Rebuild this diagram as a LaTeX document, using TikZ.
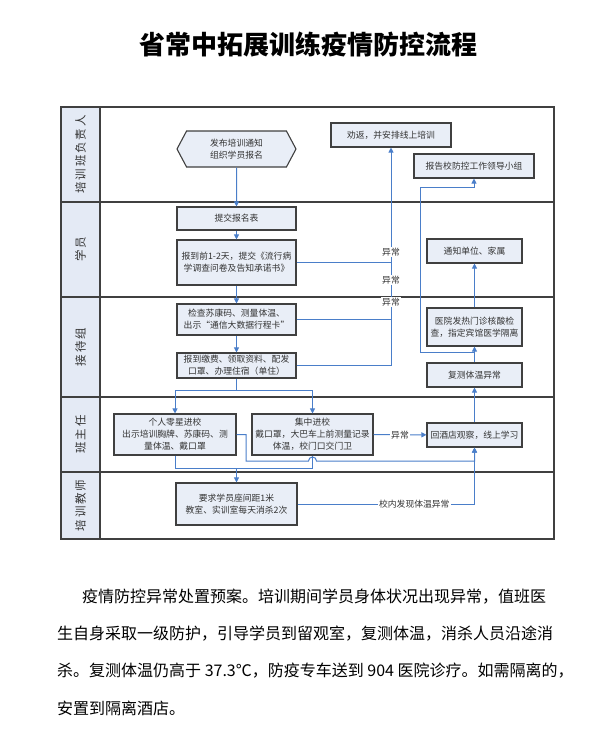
\documentclass[tikz,border=0pt]{standalone}
\usepackage{fontspec}
\usepackage{tikz}
\usetikzlibrary{arrows.meta,shapes.symbols}

\newfontfamily\cjk{Noto Sans CJK SC}

\definecolor{flowblue}{HTML}{4A7EC9}
\definecolor{boxfill}{HTML}{E9EEF7}
\definecolor{lanefill}{HTML}{E4EAF5}
\definecolor{edgegray}{HTML}{404040}
\definecolor{textgray}{HTML}{333333}

\tikzset{
  stepbox/.style={draw=edgegray, line width=1.1pt, fill=boxfill, align=center, text=textgray,
    font=\cjk\fontsize{8.8}{12}\selectfont, inner sep=1pt},
  link/.style={draw=flowblue, line width=1pt},
  flow/.style={link, -{Triangle[length=5pt,width=5pt]}},
  tag/.style={fill=white, inner sep=1pt, text=textgray, font=\cjk\fontsize{8.8}{10}\selectfont},
  lanetext/.style={rotate=90, text=textgray, font=\cjk\fontsize{11.5}{12}\selectfont},
  bodyline/.style={anchor=west, inner sep=0pt, text=black, font=\cjk\fontsize{16}{16}\selectfont},
}

\begin{document}
\begin{tikzpicture}[x=1pt, y=-1pt]
  \useasboundingbox (0,0) rectangle (614,739);

  \node[font=\cjk\bfseries\fontsize{26}{27}\selectfont] (title) at (308,45) {省常中拓展训练疫情防控流程};

  % swimlanes
  \fill[lanefill] (61,107) rectangle (100,539);
  \draw[edgegray, line width=1.2pt] (61,107) rectangle (554,539);
  \draw[edgegray, line width=1.2pt] (100,107) -- (100,539);
  \foreach \y in {202,297,397,472}
    \draw[edgegray, line width=1.2pt] (61,\y) -- (554,\y);

  \node[lanetext] (lane1) at (80.5,154.5) {培\,训\,班\,负\,责\,人};
  \node[lanetext] (lane2) at (80.5,249.5) {学\,员};
  \node[lanetext] (lane3) at (80.5,347) {接\,待\,组};
  \node[lanetext] (lane4) at (80.5,434.5) {班\,主\,任};
  \node[lanetext] (lane5) at (80.5,505.5) {培\,训\,教\,师};

  % left column
  \node[stepbox, shape=signal, signal to=east and west, signal pointer angle=124,
    minimum width=119pt, minimum height=36pt] (notice) at (236.5,149) {发布培训通知\\组织学员报名};
  \node[stepbox, minimum width=119pt, minimum height=23pt] (apply) at (236.5,218.5) {提交报名表};
  \node[stepbox, minimum width=119pt, minimum height=45pt] (report) at (236.5,262.5) {报到前1-2天，提交《流行病\\学调查问卷及告知承诺书》};
  \node[stepbox, minimum width=119pt, minimum height=31pt] (check) at (236.5,319.5) {检查苏康码、测量体温、\\出示“通信大数据行程卡”};
  \node[stepbox, minimum width=119pt, minimum height=25pt] (register) at (236.5,365.5) {报到缴费、领取资料、配发\\口罩、办理住宿（单住）};
  \node[stepbox, minimum width=122pt, minimum height=41pt] (single) at (175,434.5) {个人零星进校\\出示培训胸牌、苏康码、测\\量体温、戴口罩};
  \node[stepbox, minimum width=121pt, minimum height=41pt] (group) at (312.5,434.5) {集中进校\\戴口罩，大巴车上前测量记录\\体温，校门口交门卫};
  \node[stepbox, minimum width=121pt, minimum height=42pt] (class) at (236.5,504) {要求学员座间距1米\\教室、实训室每天消杀2次};

  % right column
  \node[stepbox, minimum width=120pt, minimum height=24pt] (online) at (391,135) {劝返，并安排线上培训};
  \node[stepbox, minimum width=120pt, minimum height=24pt] (leader) at (474,166) {报告校防控工作领导小组};
  \node[stepbox, minimum width=95pt, minimum height=24pt] (family) at (474.5,251) {通知单位、家属};
  \node[stepbox, minimum width=95pt, minimum height=38pt] (hospital) at (474.5,327) {医院发热门诊核酸检\\查，指定宾馆医学隔离};
  \node[stepbox, minimum width=95pt, minimum height=24pt] (retest) at (474.5,375) {复测体温异常};
  \node[stepbox, minimum width=95pt, minimum height=24pt] (hotel) at (474.5,435) {回酒店观察，线上学习};

  % main flow
  \draw[flow] (notice) -- (apply);
  \draw[flow] (apply) -- (report);
  \draw[flow] (report) -- (check);
  \draw[flow] (check) -- (register);

  \coordinate (split) at (236.5,390);
  \draw[link] (register) -- (split);
  \draw[flow] (split) -| (single.north);
  \draw[flow] (split) -| (group.north);

  \coordinate (merge) at (236.5,468);
  \draw[link] (single.south) |- (merge);
  \draw[link] (group.south) |- (merge);
  \draw[flow] (merge) -- (class);

  \draw[flow] (single.east) -| (246,461) -- (308.5,461)
    arc[start angle=180, end angle=0, radius=4pt] -- (474.5,461) -- (hotel.south);
  \draw[flow] (class.east) -| node[tag, pos=0.33] (inschool) {校内发现体温异常} (hotel.south);
  \draw[flow] (group) -- node[tag] (tag4) {异常} (hotel);

  % abnormal branch
  \draw[link] (report.east) -- (report.east -| online.south);
  \draw[link] (check.east) -- (check.east -| online.south);
  \draw[flow] (register.east) -| (online.south);
  \node[tag] (tag1) at (391,252) {异常};
  \node[tag] (tag2) at (391,280) {异常};
  \node[tag] (tag3) at (391,302) {异常};

  \draw[flow] (hotel) -- (retest);
  \draw[flow] (retest) -- (hospital);
  \draw[flow] (hospital) -- (family);
  \coordinate (fork) at (474.5,352);
  \draw[flow] (fork) -| (420,187) -| (leader.south);

  % text below
  \node[bodyline] (para1) at (82,597) {疫情防控异常处置预案。培训期间学员身体状况出现异常，值班医};
  \node[bodyline] (para2) at (57,634) {生自身采取一级防护，引导学员到留观室，复测体温，消杀人员沿途消};
  \node[bodyline] (para3) at (57,671) {杀。复测体温仍高于 37.3℃，防疫专车送到 904 医院诊疗。如需隔离的，};
  \node[bodyline] (para4) at (57,708) {安置到隔离酒店。};
\end{tikzpicture}
\end{document}
